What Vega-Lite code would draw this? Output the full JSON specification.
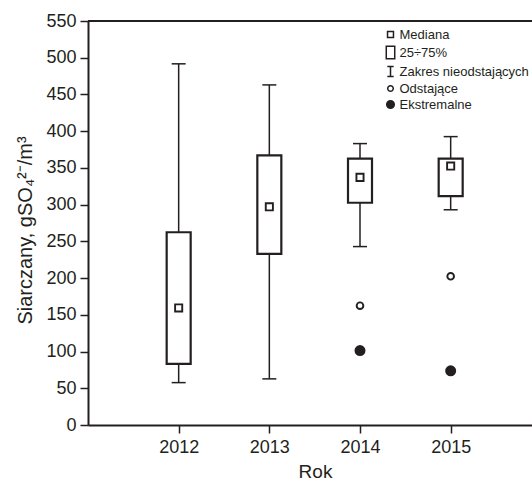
{
  "$schema": "https://vega.github.io/schema/vega-lite/v6.json",
  "width": 444,
  "height": 404,
  "autosize": {"type": "none"},
  "padding": {"left": 88, "top": 21, "right": 0, "bottom": 56},
  "background": "white",
  "config": {
    "view": {"stroke": null},
    "font": "Liberation Sans",
    "axis": {
      "grid": false,
      "labelOverlap": false,
      "domainColor": "#231f20",
      "domainWidth": 2,
      "tickColor": "#231f20",
      "tickWidth": 1.5,
      "tickSize": 8,
      "labelColor": "#231f20",
      "labelFont": "Liberation Sans",
      "labelFontSize": 18,
      "titleColor": "#231f20",
      "titleFont": "Liberation Sans",
      "titleFontSize": 19,
      "titleFontWeight": "normal"
    },
    "legend": {
      "symbolSize": 160,
      "symbolStrokeWidth": 1.5,
      "labelFont": "Liberation Sans",
      "labelFontSize": 13,
      "labelColor": "#231f20",
      "padding": 0
    }
  },
  "datasets": {
    "boxes": [
      {"rok": 2012, "min": 57.7, "q1": 83.3, "median": 159.3, "q3": 262.4, "max": 491.7},
      {"rok": 2013, "min": 62.8, "q1": 233.0, "median": 297.1, "q3": 367.1, "max": 463.0},
      {"rok": 2014, "min": 242.9, "q1": 302.6, "median": 337.1, "q3": 362.6, "max": 383.1},
      {"rok": 2015, "min": 293.0, "q1": 311.6, "median": 352.5, "q3": 362.6, "max": 392.6}
    ],
    "points": [
      {"rok": 2012, "value": 159.3, "typ": "Mediana"},
      {"rok": 2013, "value": 297.1, "typ": "Mediana"},
      {"rok": 2014, "value": 337.1, "typ": "Mediana"},
      {"rok": 2015, "value": 352.5, "typ": "Mediana"},
      {"rok": 2014, "value": 162.4, "typ": "Odstające"},
      {"rok": 2015, "value": 202.4, "typ": "Odstające"},
      {"rok": 2014, "value": 101.4, "typ": "Ekstremalne"},
      {"rok": 2015, "value": 73.7, "typ": "Ekstremalne"}
    ]
  },
  "encoding": {
    "x": {
      "field": "rok",
      "type": "quantitative",
      "scale": {"domain": [2011, 2015.897], "nice": false, "zero": false},
      "axis": {
        "values": [2012, 2013, 2014, 2015],
        "format": "d",
        "labelPadding": 5,
        "title": "Rok",
        "titleX": 227,
        "titleY": 52,
        "titleBaseline": "alphabetic",
        "titleAlign": "center"
      }
    },
    "y": {
      "field": "min",
      "type": "quantitative",
      "scale": {"domain": [0, 550], "nice": false},
      "axis": {
        "values": [0, 50, 100, 150, 200, 250, 300, 350, 400, 450, 500, 550],
        "labelPadding": 4,
        "title": "Siarczany, gSO₄²⁻/m³",
        "titleFontSize": 20,
        "titleAngle": -90,
        "titleX": -57,
        "titleY": 209,
        "titleBaseline": "alphabetic",
        "titleAlign": "center"
      }
    }
  },
  "layer": [
    {
      "data": {"name": "boxes"},
      "mark": {"type": "rule", "color": "#231f20", "strokeWidth": 1.5},
      "encoding": {
        "y2": {"field": "max"}
      }
    },
    {
      "data": {"name": "boxes"},
      "mark": {"type": "rule", "color": "#231f20", "strokeWidth": 1.5, "xOffset": -7, "x2Offset": 7},
      "encoding": {
        "x2": {"field": "rok"}
      }
    },
    {
      "data": {"name": "boxes"},
      "mark": {"type": "rule", "color": "#231f20", "strokeWidth": 1.5, "xOffset": -7, "x2Offset": 7},
      "encoding": {
        "x2": {"field": "rok"},
        "y": {"field": "max", "type": "quantitative"}
      }
    },
    {
      "data": {"name": "boxes"},
      "mark": {"type": "rect", "fill": "white", "stroke": "#231f20", "strokeWidth": 2.2, "xOffset": -12, "x2Offset": 12},
      "encoding": {
        "x2": {"field": "rok"},
        "y": {"field": "q1", "type": "quantitative"},
        "y2": {"field": "q3"}
      }
    },
    {
      "data": {"name": "boxes"},
      "mark": {"type": "rule", "color": "#231f20", "strokeWidth": 2},
      "encoding": {
        "x": null,
        "y": {"datum": 550, "type": "quantitative"}
      }
    },
    {
      "data": {"name": "points"},
      "mark": {"type": "point", "size": 230, "strokeWidth": 1.9, "opacity": 1, "fillOpacity": 1, "strokeOpacity": 1},
      "encoding": {
        "y": {"field": "value", "type": "quantitative"},
        "shape": {
          "field": "typ",
          "type": "nominal",
          "scale": {
            "domain": ["Mediana", "25÷75%", "Zakres nieodstających", "Odstające", "Ekstremalne"],
            "range": [
              "M-0.47,-0.47H0.47V0.47H-0.47Z",
              "M-0.67,-0.99H0.67V0.99H-0.67Z",
              "M-0.5,-0.8H0.5M0,-0.8V0.8M-0.5,0.8H0.5",
              "M0.44,0A0.44,0.44 0 1,1 -0.44,0A0.44,0.44 0 1,1 0.44,0Z",
              "M0.6,0A0.6,0.6 0 1,1 -0.6,0A0.6,0.6 0 1,1 0.6,0Z"
            ]
          },
          "legend": {
            "title": null,
            "orient": "none",
            "legendX": 295,
            "legendY": 6,
            "labelOffset": 1.5,
            "rowPadding": 1
          }
        },
        "fill": {
          "field": "typ",
          "type": "nominal",
          "scale": {
            "domain": ["Mediana", "25÷75%", "Zakres nieodstających", "Odstające", "Ekstremalne"],
            "range": ["white", "white", "white", "white", "#231f20"]
          },
          "legend": {
            "title": null,
            "orient": "none",
            "legendX": 295,
            "legendY": 6,
            "labelOffset": 1.5,
            "rowPadding": 1
          }
        },
        "stroke": {
          "field": "typ",
          "type": "nominal",
          "scale": {
            "domain": ["Mediana", "25÷75%", "Zakres nieodstających", "Odstające", "Ekstremalne"],
            "range": ["#231f20", "#231f20", "#231f20", "#231f20", "#231f20"]
          },
          "legend": {
            "title": null,
            "orient": "none",
            "legendX": 295,
            "legendY": 6,
            "labelOffset": 1.5,
            "rowPadding": 1
          }
        }
      }
    }
  ]
}
